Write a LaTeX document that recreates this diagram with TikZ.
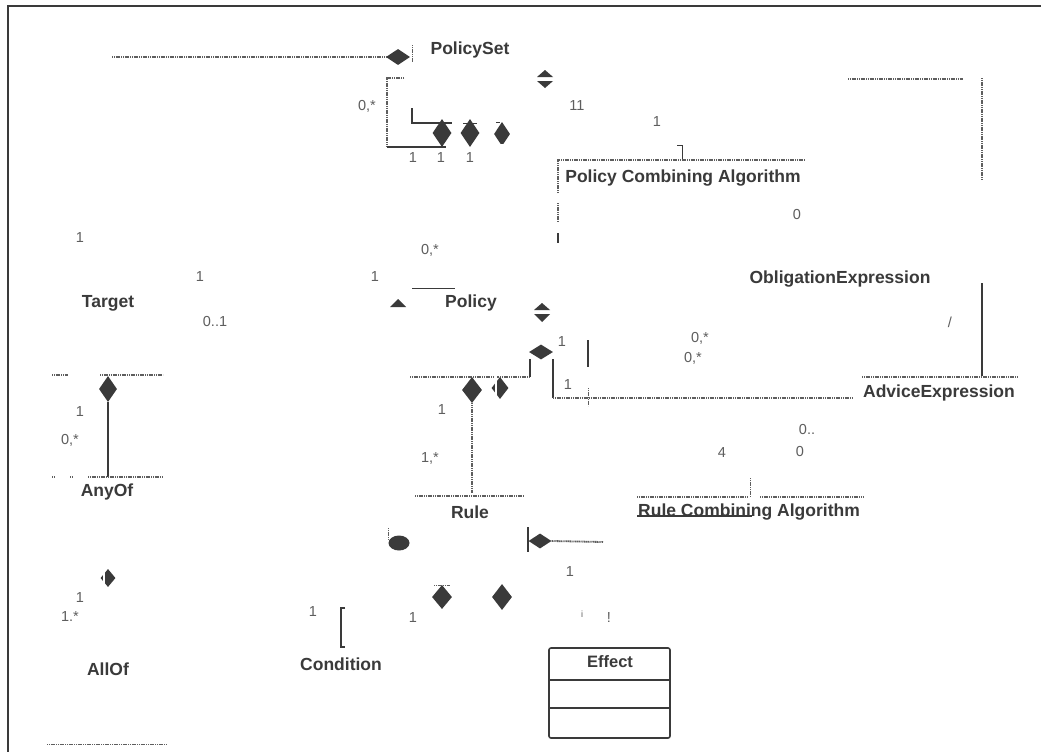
\documentclass[tikz,border=0pt]{standalone}
\usepackage{fontspec}
\setmainfont{Liberation Sans}
\usetikzlibrary{shapes.geometric}
\definecolor{ink}{HTML}{3A3A3A}
\definecolor{inkl}{HTML}{5E5E5E}
\begin{document}
\begin{tikzpicture}[x=1pt,y=-1pt,
  cls/.style={font=\fontsize{17.5}{20}\selectfont\bfseries, text=ink, inner sep=0pt},
  mult/.style={font=\fontsize{14.5}{16}\selectfont, text=inkl, inner sep=0pt},
  hatch/.style={draw=inkl, line width=1.8pt, dash pattern=on 1.2pt off 0.6pt},
  sline/.style={draw=ink, line width=1.3pt},
  dmd/.style={diamond, fill=ink, inner sep=0pt, minimum width=19pt, minimum height=27pt},
  halfcut/.style={draw=white, line width=1.6pt},
]
\useasboundingbox (0,0) rectangle (1041,755);
\fill[white] (0,0) rectangle (1041,755);

% ---------- frame ----------
\coordinate (fTR) at (1041,6);
\coordinate (fTL) at (8,6);
\coordinate (fBL) at (8,752);
\draw[ink, line width=1.6pt] (fTR) -- (fTL) -- (fBL);

% ---------- class names ----------
\node[cls] (policyset) at (470,50) {PolicySet};
\node[cls] (pca) at (683,178) {Policy Combining Algorithm};
\node[cls] (oblig) at (840,279) {ObligationExpression};
\node[cls] (target) at (108,303) {Target};
\node[cls] (policy) at (471,303) {Policy};
\node[cls] (advice) at (939,393) {AdviceExpression};
\node[cls] (anyof) at (107,492) {AnyOf};
\node[cls] (rule) at (470,512) {Rule};
\node[cls] (rca) at (749,512) {Rule Combining Algorithm};
\node[cls] (allof) at (108,669) {AllOf};
\node[cls] (condition) at (341,664) {Condition};

% ---------- multiplicities ----------
\node[mult] (m1) at (367,106) {0,*};
\node[mult] (m2) at (413,158) {1};
\node[mult] (m3) at (441,158) {1};
\node[mult] (m4) at (470,158) {1};
\node[mult] (m5) at (577,106) {11};
\node[mult] (m6) at (657,122) {1};
\node[mult] (m7) at (797,215) {0};
\node[mult] (m8) at (80,238) {1};
\node[mult] (m9) at (430,250) {0,*};
\node[mult] (m10) at (200,277) {1};
\node[mult] (m11) at (375,277) {1};
\node[mult] (m12) at (215,322) {0..1};
\node[mult] (m13) at (950,322) {/};
\node[mult] (m14) at (562,342) {1};
\node[mult] (m15) at (700,338) {0,*};
\node[mult] (m16) at (693,358) {0,*};
\node[mult] (m17) at (568,385) {1};
\node[mult] (m18) at (80,412) {1};
\node[mult] (m19) at (442,410) {1};
\node[mult] (m20) at (807,430) {0..};
\node[mult] (m21) at (70,440) {0,*};
\node[mult] (m22) at (722,453) {4};
\node[mult] (m23) at (800,452) {0};
\node[mult] (m24) at (430,458) {1,*};
\node[mult] (m25) at (570,572) {1};
\node[mult] (m26) at (80,598) {1};
\node[mult] (m27) at (70,617) {1.*};
\node[mult] (m28) at (313,612) {1};
\node[mult] (m29) at (413,618) {1};
\node[mult, font=\fontsize{9}{10}\selectfont] (m30) at (582,614) {i};
\node[mult] (m31) at (609,618) {!};

% ---------- PolicySet area ----------
\coordinate (psL) at (112,57);
\node[dmd, minimum width=24pt, minimum height=16pt] (psD) at (398,57) {};
\draw[hatch] (psL) -- (psD.west);
\coordinate (psT1) at (412,45); \coordinate (psT2) at (412,62);
\draw[hatch, line width=0.8pt] (psT1) -- (psT2);

\coordinate (brT) at (404,78); \coordinate (brTL) at (387,78);
\coordinate (brBL) at (387,147); \coordinate (brB) at (446,147);
\draw[hatch] (brT) -- (brTL) -- (brBL);
\draw[sline] (brBL) -- (brB);
\coordinate (inA) at (412,108); \coordinate (inB) at (412,123); \coordinate (inC) at (452,123);
\draw[sline] (inA) -- (inB) -- (inC);
\node[dmd, minimum height=28pt] (d1) at (442,133) {};
\node[dmd, minimum height=28pt] (d2) at (470,133) {};
\node[dmd, minimum width=16pt, minimum height=24pt] (d3) at (502,134) {};
\coordinate (t2a) at (463,123); \coordinate (t2b) at (477,123);
\draw[sline, line width=0.9pt] (t2a) -- (t2b);
\coordinate (t3a) at (496,122); \coordinate (t3b) at (500,122);
\draw[sline, line width=0.9pt] (t3a) -- (t3b);
\coordinate (d3cut1) at (497,145); \coordinate (d3cut2) at (507,145);
\draw[halfcut] (d3cut1) -- (d3cut2);

% double triangles
\fill[ink] (537,77) -- (553,77) -- (545,70) -- cycle;
\fill[ink] (537,81) -- (553,81) -- (545,88) -- cycle;
\coordinate (dtA) at (545,79);
\fill[ink] (534,310) -- (550,310) -- (542,303) -- cycle;
\fill[ink] (534,314) -- (550,314) -- (542,322) -- cycle;
\coordinate (dtB) at (542,312);

% PCA
\coordinate (pbA) at (677,145); \coordinate (pbB) at (682,145); \coordinate (pbC) at (682,160);
\draw[sline, line width=1pt] (pbA) -- (pbB) -- (pbC);
\coordinate (pcaBL) at (558,193); \coordinate (pcaTL) at (558,160); \coordinate (pcaTR) at (805,160);
\draw[hatch] (pcaBL) -- (pcaTL) -- (pcaTR);
\coordinate (pv1) at (558,203); \coordinate (pv2) at (558,222);
\coordinate (pv3) at (558,233); \coordinate (pv4) at (558,243);
\draw[hatch] (pv1) -- (pv2);
\draw[sline, line width=1.5pt] (pv3) -- (pv4);

% Obligation / Advice frame
\coordinate (obA) at (848,79); \coordinate (obB) at (963,79);
\draw[hatch] (obA) -- (obB);
\coordinate (obV1) at (982,78); \coordinate (obV2) at (982,180);
\draw[hatch, line width=2pt] (obV1) -- (obV2);
\coordinate (obV3) at (982,283); \coordinate (obV4) at (982,376);
\draw[sline, line width=1.8pt] (obV3) -- (obV4);
\coordinate (adA) at (862,377); \coordinate (adB) at (1017,377);
\draw[hatch] (adA) -- (adB);

% Policy area
\coordinate (pl1) at (412,288); \coordinate (pl2) at (455,288);
\draw[sline, line width=1pt] (pl1) -- (pl2);
\fill[ink] (390,307) -- (406,307) -- (398,299) -- cycle;
\coordinate (polTri) at (398,304);

\node[diamond, fill=ink, inner sep=0pt, minimum width=24pt, minimum height=15pt] (cap) at (541,352) {};
\coordinate (capL1) at (530,359); \coordinate (capL2) at (530,377);
\coordinate (capR1) at (553,359); \coordinate (capR2) at (553,398);
\coordinate (polBL) at (410,377);
\draw[hatch] (polBL) -- (capL2);
\draw[sline] (capL1) -- (capL2);
\draw[sline] (capR1) -- (capR2);
\coordinate (advL) at (853,398);
\draw[hatch] (capR2) -- (advL);
\coordinate (sq1) at (588,388); \coordinate (sq2) at (588,406);
\draw[hatch, line width=1pt] (sq1) -- (sq2);
\coordinate (vl1) at (588,340); \coordinate (vl2) at (588,367);
\draw[sline, line width=1.2pt] (vl1) -- (vl2);

% Target / AnyOf / AllOf column
\coordinate (ta1) at (52,375); \coordinate (ta2) at (68,375);
\coordinate (ta3) at (100,375); \coordinate (ta4) at (163,375);
\draw[hatch] (ta1) -- (ta2);
\draw[hatch] (ta3) -- (ta4);
\node[dmd, minimum width=18pt, minimum height=26pt] (aD) at (108,389) {};
\coordinate (aLine) at (108,477);
\draw[sline, line width=1.6pt] (aD.south) -- (aLine);
\coordinate (ab1) at (52,477); \coordinate (ab1e) at (55,477);
\coordinate (ab2) at (70,477); \coordinate (ab2e) at (73,477);
\coordinate (ab3) at (88,477); \coordinate (ab4) at (163,477);
\draw[hatch] (ab1) -- (ab1e);
\draw[hatch] (ab2) -- (ab2e);
\draw[hatch] (ab3) -- (ab4);
\node[dmd, minimum width=15pt, minimum height=18pt] (hD) at (108,578) {};
\coordinate (hc1) at (104,568); \coordinate (hc2) at (104,588);
\draw[halfcut] (hc1) -- (hc2);
\coordinate (al1) at (47,744); \coordinate (al2) at (167,744);
\draw[hatch, line width=1pt] (al1) -- (al2);

% Rule area
\coordinate (rlA) at (415,496); \coordinate (rlB) at (524,496);
\draw[hatch] (rlA) -- (rlB);
\node[dmd, minimum width=20pt, minimum height=26pt] (rD) at (472,390) {};
\coordinate (rV) at (472,493);
\draw[hatch, line width=2.2pt] (rD.south) -- (rV);
\node[dmd, minimum width=17pt, minimum height=22pt] (rH) at (500,388) {};
\coordinate (rc1) at (496,376); \coordinate (rc2) at (496,400);
\draw[halfcut] (rc1) -- (rc2);

\node[ellipse, fill=ink, inner sep=0pt, minimum width=21pt, minimum height=15pt] (blob) at (399,543) {};
\coordinate (bl1) at (388,528); \coordinate (bl2) at (388,540);
\draw[hatch, line width=1pt] (bl1) -- (bl2);
\node[dmd, minimum width=20pt, minimum height=24pt] (cD1) at (442,597) {};
\coordinate (ct1) at (434,585); \coordinate (ct2) at (450,585);
\draw[hatch, line width=1pt] (ct1) -- (ct2);
\node[dmd, minimum width=20pt, minimum height=26pt] (cD2) at (502,597) {};

\coordinate (cbA) at (345,608); \coordinate (cbB) at (341,608);
\coordinate (cbC) at (341,647); \coordinate (cbD) at (345,647);
\draw[sline, line width=1.5pt] (cbA) -- (cbB) -- (cbC) -- (cbD);

% Rule Combining Algorithm
\coordinate (rcT1) at (750,478); \coordinate (rcT2) at (750,497);
\draw[hatch, line width=1pt] (rcT1) -- (rcT2);
\coordinate (rcA) at (637,497); \coordinate (rcB) at (748,497);
\coordinate (rcC) at (760,497); \coordinate (rcD) at (863,497);
\draw[hatch] (rcA) -- (rcB);
\draw[hatch] (rcC) -- (rcD);
\coordinate (rsA) at (637,516); \coordinate (rsB) at (752,516);
\draw[sline, line width=1.3pt] (rsA) -- (rsB);

\coordinate (bar1) at (528,527); \coordinate (bar2) at (528,552);
\draw[sline, line width=1.5pt] (bar1) -- (bar2);
\node[diamond, fill=ink, inner sep=0pt, minimum width=23pt, minimum height=15pt] (eD) at (540,541) {};
\coordinate (eL) at (603,542);
\draw[hatch] (eD.east) -- (eL);

% Effect box
\node[draw=ink, line width=1.6pt, rounded corners=2pt, minimum width=121pt, minimum height=90pt, inner sep=0pt] (effbox) at (609.5,693) {};
\node[cls, font=\fontsize{16.5}{18}\selectfont\bfseries] (effect) at (610,662) {Effect};
\coordinate (e1L) at (549,680); \coordinate (e1R) at (670,680);
\coordinate (e2L) at (549,708); \coordinate (e2R) at (670,708);
\draw[sline, line width=1.4pt] (e1L) -- (e1R);
\draw[sline, line width=2pt] (e2L) -- (e2R);
\end{tikzpicture}
\end{document}
